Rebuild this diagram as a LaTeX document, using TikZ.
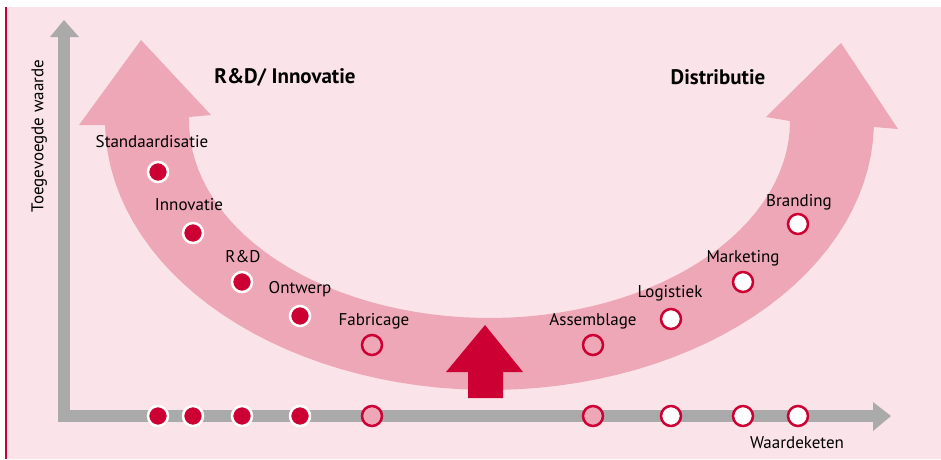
\documentclass[tikz,border=0pt]{standalone}
\usepackage{fontspec}
\setmainfont{PT Sans}
\usetikzlibrary{positioning}

\definecolor{backpink}{RGB}{250,228,234}
\definecolor{bandpink}{RGB}{237,167,182}
\definecolor{darkred}{RGB}{204,0,51}
\definecolor{axisgray}{RGB}{170,170,170}

\begin{document}
\begin{tikzpicture}
[x=1pt, y=-1pt,
 fulldot/.style={circle, fill=darkred, draw=white, line width=2.5pt, minimum size=20pt, inner sep=0},
 halfdot/.style={circle, fill=bandpink, draw=darkred, line width=2.5pt, minimum size=20pt, inner sep=0},
 opendot/.style={circle, fill=white, draw=darkred, line width=2.5pt, minimum size=20pt, inner sep=0},
 tag/.style={inner sep=0, text height=12pt, text depth=3.5pt, font=\fontsize{17}{20}\selectfont},
 title/.style={inner sep=0, font=\fontsize{21}{25}\selectfont\bfseries},
]
\def \ybase {416} % height of the horizontal axis
\def \bcx {489.5} % centre of the curved band
\def \bcy {121}

\useasboundingbox (0,0) rectangle (941,459);
\fill[backpink] (7,7) rectangle (941,459);
\fill[darkred] (5,7) rectangle (7,459);

% curved band with its two heads
\fill[bandpink] (105,125) -- (79,125) -- (141,40) -- (211,115) -- (189,117)
  -- plot[domain=179:360, samples=60] ({\bcx+300.5*cos(\x)}, {\bcy-197*sin(\x)})
  -- (766,117) -- (841,43) -- (898,129) -- (874,127)
  -- plot[domain=358.7:181, samples=60] ({\bcx+384.5*cos(\x)}, {\bcy-269*sin(\x)})
  -- cycle;

% axes
\coordinate (origin) at (64,\ybase);
\coordinate (ytop) at (64,20);
\coordinate (xend) at (891,\ybase);
\draw[axisgray, line width=12pt] (64,37) -- (origin) -- (873,\ybase);
\fill[axisgray] (ytop) -- (50,37) -- (79,37) -- cycle;
\fill[axisgray] (xend) -- (873,402) -- (873,431) -- cycle;

% arrow in the middle
\fill[darkred] (468,398) -- (468,372) -- (446,372) -- (485,325) -- (523,372)
  -- (503,372) -- (503,398) -- cycle;

\foreach \x/\y/\n/\t/\k/\g/\d in {
  158/172/std/Standaardisatie/fulldot/9.5pt/-6pt,
  193/233/inn/Innovatie/fulldot/7.5pt/-4pt,
  242/282/rd/R\&D/fulldot/4.5pt/1pt,
  300/316/ont/Ontwerp/fulldot/7.5pt/0pt,
  372/345/fab/Fabricage/halfdot/4.5pt/2pt,
  593/345/ass/Assemblage/halfdot/4.5pt/0pt,
  671/319/log/Logistiek/opendot/6.5pt/-1pt,
  743/282/mar/Marketing/opendot/4.5pt/0pt,
  798/224/bra/Branding/opendot/2.5pt/1pt}
{
  \node[\k] (\n) at (\x,\y) {};
  \node[tag, above=\g of \n, xshift=\d] (\n-tag) {\t};
  \node[\k] (\n-ax) at (\x,\ybase) {};
}

\node[title] (rdi) at (285,77) {R\&D/ Innovatie};
\node[title] (dist) at (718,77) {Distributie};

\node[tag, rotate=90] (yname) at (39,136) {Toegevoegde waarde};
\node[tag] (xname) at (797,444) {Waardeketen};
\end{tikzpicture}
\end{document}
